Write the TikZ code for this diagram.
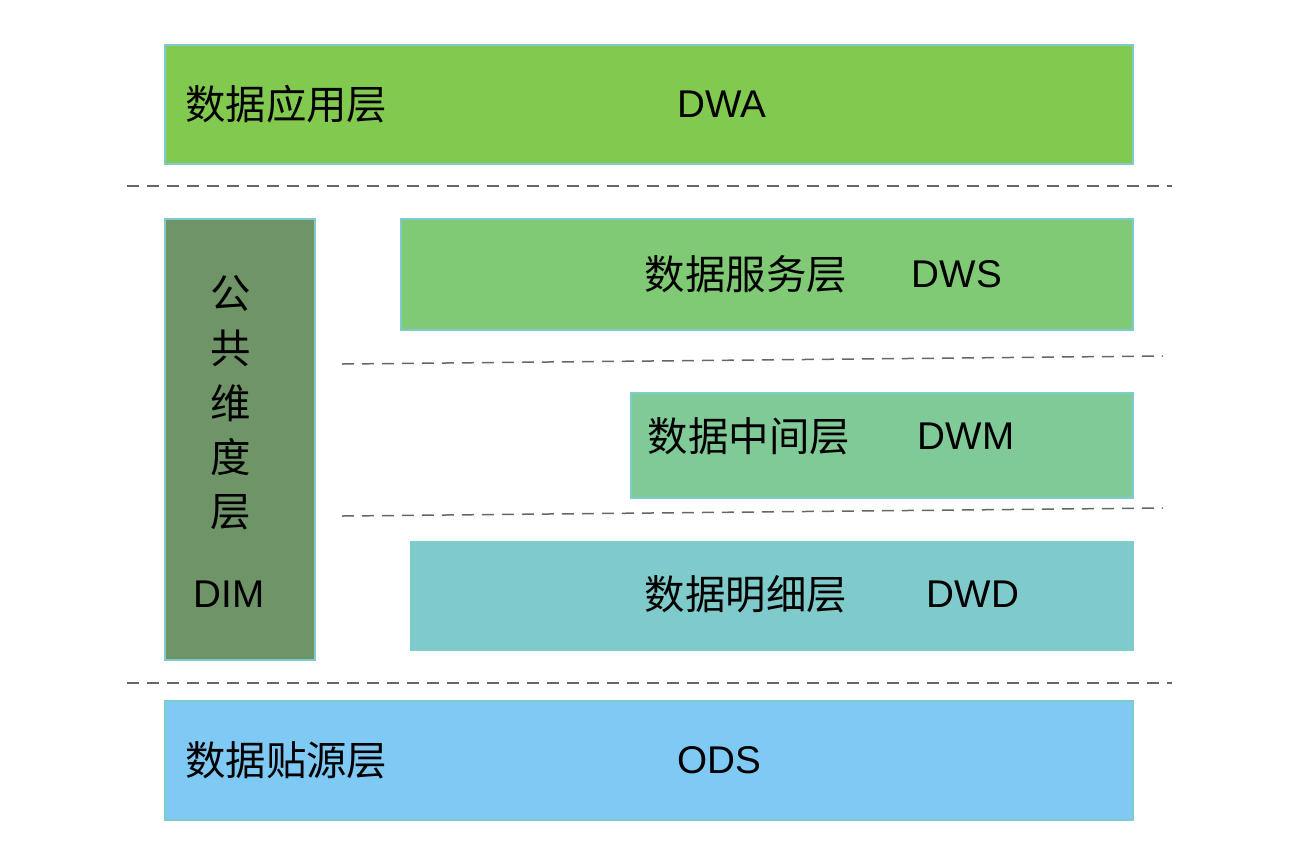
\documentclass[tikz,border=0pt]{standalone}
\usepackage{fontspec}
\setmainfont{Liberation Sans}
\newfontfamily\cjk{Noto Sans CJK SC}
\begin{document}
\begin{tikzpicture}[x=0.02cm,y=-0.02cm,
  layer/.style={draw=bordc,line width=0.04cm},
  sep/.style={draw=dashc,line width=0.03cm,dash pattern=on 0.24cm off 0.16cm},
  lbl/.style={inner sep=0pt,font=\fontsize{23}{27}\selectfont\cjk},
  code/.style={inner sep=0pt,font=\fontsize{22}{26}\selectfont}]
\definecolor{bordc}{HTML}{7ECBCB}
\definecolor{dashc}{HTML}{666666}
\definecolor{cdwa}{HTML}{82C950}
\definecolor{cdim}{HTML}{6E9468}
\definecolor{cdws}{HTML}{80C975}
\definecolor{cdwm}{HTML}{80CA98}
\definecolor{cdwd}{HTML}{7FCBCB}
\definecolor{cods}{HTML}{7FCAF5}
\useasboundingbox (0,0) rectangle (1300,860);
% boxes
\path[layer,fill=cdwa] (165,45) rectangle (1133,164);
\path[layer,fill=cdim] (165,219) rectangle (315,660);
\path[layer,fill=cdws] (401,219) rectangle (1133,330);
\path[layer,fill=cdwm] (631,393) rectangle (1133,498);
\path[fill=cdwd] (410,541) rectangle (1134,651);
\path[layer,fill=cods] (165,701) rectangle (1133,820);
% separators
\coordinate (s1a) at (127,186); \coordinate (s1b) at (1172,186);
\coordinate (s2a) at (342,364); \coordinate (s2b) at (1163,356);
\coordinate (s3a) at (342,516); \coordinate (s3b) at (1163,508);
\coordinate (s4a) at (127,683); \coordinate (s4b) at (1172,683);
\draw[sep] (s1a) -- (s1b);
\draw[sep] (s2a) -- (s2b);
\draw[sep] (s3a) -- (s3b);
\draw[sep] (s4a) -- (s4b);
% labels
\node[lbl,anchor=west] (tdwa) at (185,104) {数据应用层};
\node[code] (cdwa) at (722,104) {DWA};
\node[lbl] (g1) at (231,293) {公};
\node[lbl] (g2) at (231,348) {共};
\node[lbl] (g3) at (231,403) {维};
\node[lbl] (g4) at (231,457) {度};
\node[lbl] (g5) at (231,512) {层};
\node[code] (cdim) at (229,594) {DIM};
\node[lbl] (tdws) at (746,274) {数据服务层};
\node[code] (cdws) at (957,274) {DWS};
\node[lbl] (tdwm) at (749,436) {数据中间层};
\node[code] (cdwm) at (966,436) {DWM};
\node[lbl] (tdwd) at (746,594) {数据明细层};
\node[code] (cdwd) at (973,594) {DWD};
\node[lbl,anchor=west] (tods) at (185,760) {数据贴源层};
\node[code] (cods) at (719,760) {ODS};
\end{tikzpicture}
\end{document}
